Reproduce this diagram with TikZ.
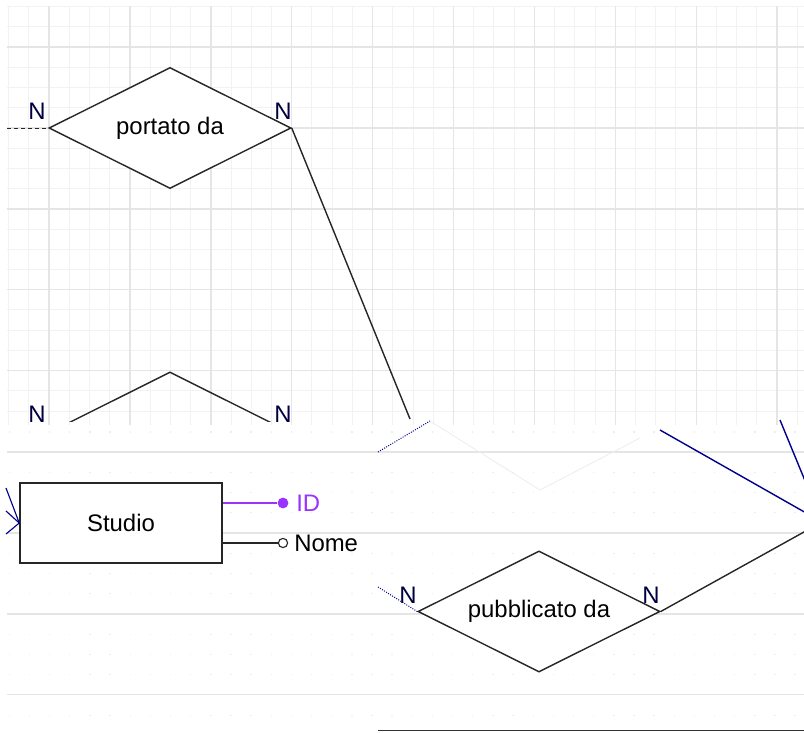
\documentclass[tikz,border=0pt]{standalone}
\usepackage{fontspec}
\setmainfont{Liberation Sans}
\usetikzlibrary{shapes.geometric,calc}
\definecolor{idpurple}{RGB}{153,51,255}

\begin{document}
\begin{tikzpicture}[x=0.025cm,y=-0.025cm,
  every node/.style={font=\fontsize{17}{20}\selectfont},
  rel/.style={diamond,aspect=2,draw=black!85,line width=1pt,minimum width=6.05cm,minimum height=3.025cm,inner sep=0pt},
  ent/.style={rectangle,draw=black!85,line width=1pt,fill=white,minimum width=5.05cm,minimum height=2cm},
  card/.style={text=black!75!blue,inner sep=0pt},
  conn/.style={draw=black!85,line width=1pt},
  ghost/.style={draw=blue!55!black,line width=1pt},
  minor/.style={draw=black!5,line width=0.6pt},
  major/.style={draw=black!10,line width=1pt}]

\useasboundingbox (0,0) rectangle (804,732);

% grid, upper part
\begin{scope}
\clip (7,6) rectangle (804,424);
\foreach \i in {0,...,40} \draw[minor] (8.6+20.22*\i,0) -- ++(0,440);
\foreach \j in {0,...,21} \draw[minor] (0,6.6+20.22*\j) -- ++(820,0);
\foreach \k in {0,...,9} \draw[major] (49+80.9*\k,0) -- (49+80.9*\k,440);
\foreach \k in {0,...,5} \draw[major] (0,47+80.9*\k) -- (820,47+80.9*\k);
\end{scope}

% grid, lower part
\begin{scope}
\clip (7,424) rectangle (804,732);
\foreach \j in {0,...,15} \draw[black!7,line width=0.8pt,dash pattern=on 1pt off 13.33pt] (8.6,432+20.22*\j) -- ++(800,0);
\foreach \k in {0,...,3} \draw[major] (0,452+80.9*\k) -- (820,452+80.9*\k);
\end{scope}

% portato da
\node[rel,fill=white] (portato) at (170,128) {portato da};
\node[card] (nP1) at (37,111) {N};
\node[card] (nP2) at (283,111) {N};
\coordinate (p0) at (7,128);
\coordinate (p1) at (410,419);
\draw[conn,line width=0.6pt,densely dashed] (p0) -- (portato.west);
\draw[conn] (portato.east) -- (p1);

% second relation, cut off
\begin{scope}
\clip (0,0) rectangle (804,421);
\node[rel] (rel2) at (170,432.5) {};
\end{scope}
\node[card] (nR1) at (37,414) {N};
\node[card] (nR2) at (283,414) {N};

% Studio
\node[ent] (studio) at (121,523) {Studio};
\coordinate (f1) at (6,488);
\coordinate (f2) at (6,511);
\coordinate (f3) at (6,534);
\foreach \f in {f1,f2,f3} \draw[ghost,line width=0.8pt] (\f) -- (studio.west);

\node[circle,fill=idpurple,inner sep=0pt,minimum size=0.27cm] (idc) at (283,503) {};
\node[anchor=west,text=idpurple,inner sep=0pt] (idl) at (296,503) {ID};
\draw[idpurple,line width=1pt] (studio.east |- idc) -- (idc);

\node[circle,draw=black!85,fill=white,line width=0.8pt,inner sep=0pt,minimum size=0.23cm] (nomec) at (283,543) {};
\node[anchor=west,inner sep=0pt] (nomel) at (294,543) {Nome};
\draw[conn] (studio.east |- nomec) -- (nomec);

% pubblicato da
\node[rel,fill=white] (pubbl) at (539,611.5) {pubblicato da};
\node[card] (nB1) at (408,595) {N};
\node[card] (nB2) at (651,595) {N};
\coordinate (q0) at (378,587);
\draw[ghost,line width=0.7pt,densely dotted] (q0) -- (pubbl.west);

% lines to the entity on the right
\begin{scope}
\clip (0,0) rectangle (804,732);
\coordinate (rent) at (822,522);
\coordinate (g1) at (660,430);
\coordinate (g2) at (780,420);
\draw[conn] (pubbl.east) -- (rent);
\draw[ghost] (g1) -- (rent);
\draw[ghost] (g2) -- (rent);
\end{scope}

% ghost of the upper band
\coordinate (h0) at (378,452);
\coordinate (h1) at (430,421);
\coordinate (h2) at (540,490);
\coordinate (h3) at (640,438);
\draw[ghost,line width=0.7pt,densely dotted] (h0) -- (h1);
\draw[black!7,line width=0.6pt] (h1) -- (h2) -- (h3);

\coordinate (b0) at (378,730.6);
\coordinate (b1) at (804,730.6);
\draw[black!80,line width=1.2pt] (b0) -- (b1);

\end{tikzpicture}
\end{document}
